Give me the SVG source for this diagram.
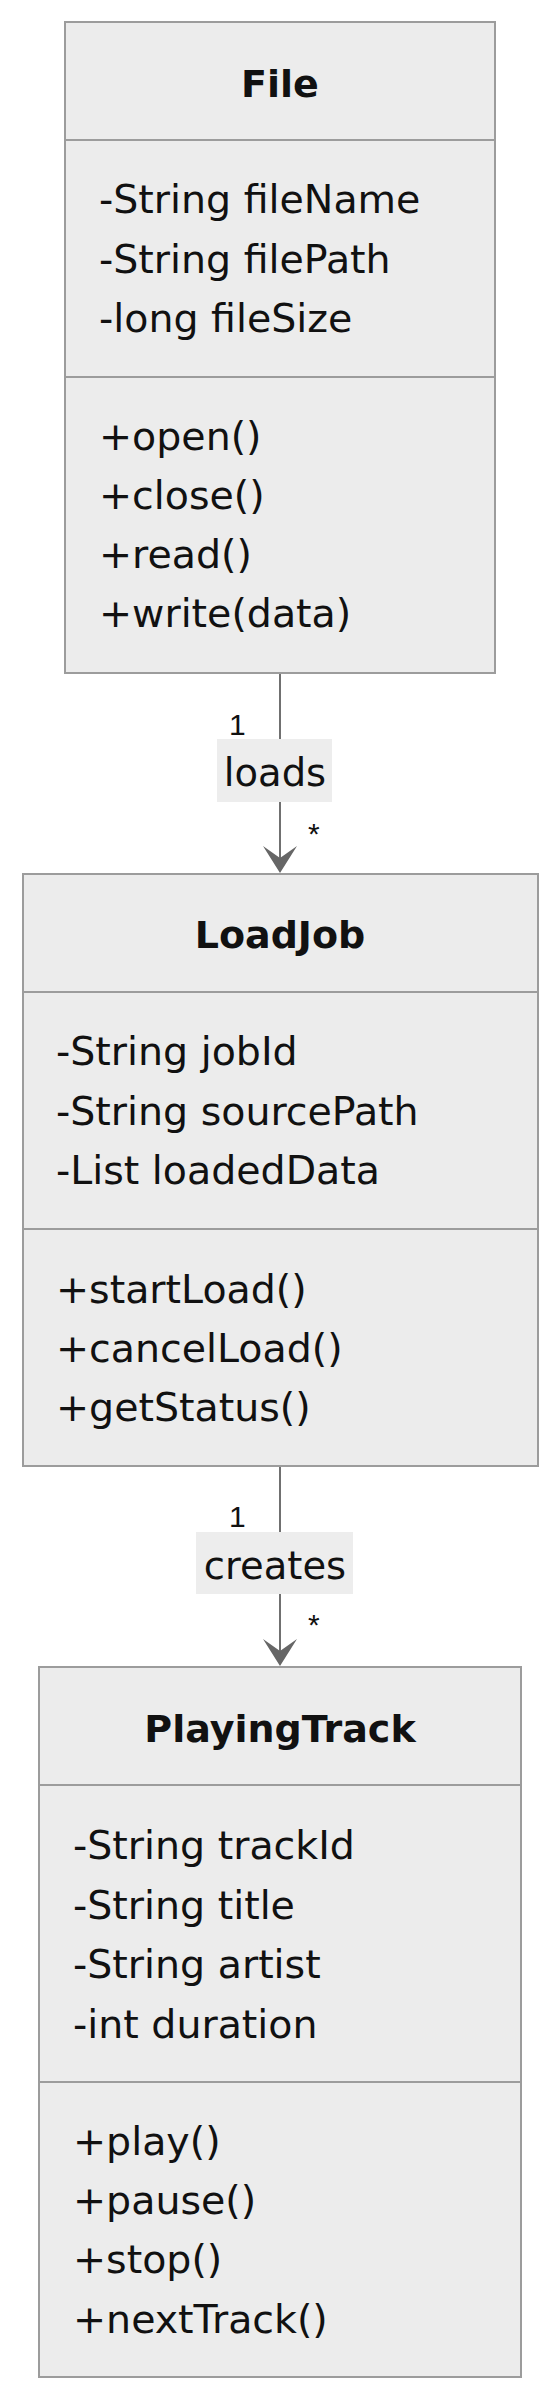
<svg xmlns="http://www.w3.org/2000/svg" width="560" height="2400" viewBox="0 0 560 2400">
<style>
.box{fill:#ececec;stroke:#9c9c9c;stroke-width:2}
.div{stroke:#9c9c9c;stroke-width:2}
.title{font-family:"DejaVu Sans",sans-serif;font-weight:bold;font-size:38px;fill:#111;text-anchor:middle}
.mem{font-family:"DejaVu Sans",sans-serif;font-size:39.5px;fill:#111}
.edge{stroke:#707070;stroke-width:2;fill:none}
.head{fill:#666}
.lblbg{fill:#ededed}
.lbl{font-family:"DejaVu Sans",sans-serif;font-size:38.5px;fill:#111;text-anchor:middle}
.card{font-family:"Liberation Sans",Arial,sans-serif;font-size:30px;fill:#111}
</style>
<rect width="560" height="2400" fill="#ffffff"/>
<g id="connectors">
  <g id="edge-file-loadjob">
    <line class="edge" x1="280" y1="673" x2="280" y2="860"/>
    <polygon class="head" points="263,846 280,858 297,846 280,873"/>
    <rect class="lblbg" x="217" y="739" width="115" height="63"/>
    <text class="lbl" x="275" y="786">loads</text>
    <text class="card" x="229" y="735">1</text>
    <text class="card" x="308" y="844">*</text>
  </g>
  <g id="edge-loadjob-playingtrack">
    <line class="edge" x1="280" y1="1466" x2="280" y2="1652"/>
    <polygon class="head" points="263,1639 280,1651 297,1639 280,1666"/>
    <rect class="lblbg" x="196" y="1532" width="157" height="62"/>
    <text class="lbl" x="275" y="1579">creates</text>
    <text class="card" x="229" y="1527">1</text>
    <text class="card" x="308" y="1635">*</text>
  </g>
</g>
<g id="node-File">
  <rect class="box" x="65" y="22" width="430" height="651"/>
  <line class="div" x1="65" y1="140" x2="495" y2="140"/>
  <line class="div" x1="65" y1="377" x2="495" y2="377"/>
  <text class="title" x="280" y="97">File</text>
  <text class="mem" x="99" y="213">-String fileName</text>
  <text class="mem" x="99" y="272.5">-String filePath</text>
  <text class="mem" x="99" y="332">-long fileSize</text>
  <text class="mem" x="99" y="450">+open()</text>
  <text class="mem" x="99" y="509">+close()</text>
  <text class="mem" x="99" y="568">+read()</text>
  <text class="mem" x="99" y="627">+write(data)</text>
</g>
<g id="node-LoadJob">
  <rect class="box" x="23" y="874" width="515" height="592"/>
  <line class="div" x1="23" y1="992" x2="538" y2="992"/>
  <line class="div" x1="23" y1="1229" x2="538" y2="1229"/>
  <text class="title" x="280" y="948">LoadJob</text>
  <text class="mem" x="56" y="1065">-String jobId</text>
  <text class="mem" x="56" y="1124.5">-String sourcePath</text>
  <text class="mem" x="56" y="1184">-List loadedData</text>
  <text class="mem" x="56" y="1303">+startLoad()</text>
  <text class="mem" x="56" y="1362">+cancelLoad()</text>
  <text class="mem" x="56" y="1421">+getStatus()</text>
</g>
<g id="node-PlayingTrack">
  <rect class="box" x="39" y="1667" width="482" height="710"/>
  <line class="div" x1="39" y1="1785" x2="521" y2="1785"/>
  <line class="div" x1="39" y1="2082" x2="521" y2="2082"/>
  <text class="title" x="280" y="1742">PlayingTrack</text>
  <text class="mem" x="73" y="1859">-String trackId</text>
  <text class="mem" x="73" y="1918.5">-String title</text>
  <text class="mem" x="73" y="1978">-String artist</text>
  <text class="mem" x="73" y="2038">-int duration</text>
  <text class="mem" x="73" y="2155">+play()</text>
  <text class="mem" x="73" y="2214">+pause()</text>
  <text class="mem" x="73" y="2273">+stop()</text>
  <text class="mem" x="73" y="2333">+nextTrack()</text>
</g>
</svg>
